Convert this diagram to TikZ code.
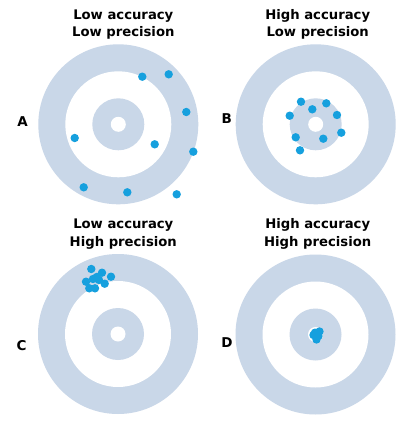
\documentclass[tikz,border=0pt]{standalone}
\usepackage{fontspec}
\setmainfont{DejaVu Sans}
\definecolor{ringblue}{RGB}{201,215,232}
\definecolor{dotblue}{RGB}{22,160,222}
\tikzset{
  title/.style={font=\bfseries\fontsize{13.2}{17.3}\selectfont, align=center, inner sep=0pt},
  letter/.style={font=\bfseries\fontsize{13.5}{16}\selectfont, inner sep=0pt},
  shot/.style={fill=dotblue, draw=none},
}
\newcommand{\target}[2]{%
  \fill[ringblue] (#1,#2) circle[radius=80];
  \fill[white] (#1,#2) circle[radius=53];
  \fill[ringblue] (#1,#2) circle[radius=26];
  \fill[white] (#1,#2) circle[radius=7.5];
}
\newcommand{\shots}[1]{\foreach \p in {#1} {\fill[shot] \p circle[radius=4.2];}}
\begin{document}
\begin{tikzpicture}[x=1pt,y=-1pt]
\useasboundingbox (0,0) rectangle (412,423);
\fill[white] (0,0) rectangle (412,423);
% targets
\target{118.3}{124.3}
\target{315.7}{124.3}
\target{118}{334}
\target{315.5}{334.5}
% shots
\shots{(142.3,76.7),(168.7,74.3),(186.3,112),(74.7,138),(154.7,144.3),(193.3,151.7),(83.7,187.3),(127.3,192.3),(176.7,194.3)}
\shots{(301,101.7),(312.3,109.3),(326.3,103.3),(289.7,115.7),(337,115),(295.7,137.3),(323.3,138.7),(341.3,132.7),(300,150.3)}
\shots{(91.3,269),(102,272.7),(111,276.7),(96.7,277),(86,281.7),(99,280),(104.7,283.7),(89.3,288.3),(95,288.3),(93,279)}
\shots{(315,332.7),(319.5,331.5),(318.5,336),(316.5,339.5),(313.5,335)}
% titles
\node[title] (tA) at (123.3,24.7) {Low accuracy\\Low precision};
\node[title] (tB) at (317.7,24.7) {High accuracy\\Low precision};
\node[title] (tC) at (123.3,234) {Low accuracy\\High precision};
\node[title] (tD) at (317.7,234) {High accuracy\\High precision};
% letters
\node[letter] (lA) at (22.7,121.7) {A};
\node[letter] (lB) at (226.7,118.3) {B};
\node[letter] (lC) at (21.7,345.3) {C};
\node[letter] (lD) at (227,343) {D};
\end{tikzpicture}
\end{document}
